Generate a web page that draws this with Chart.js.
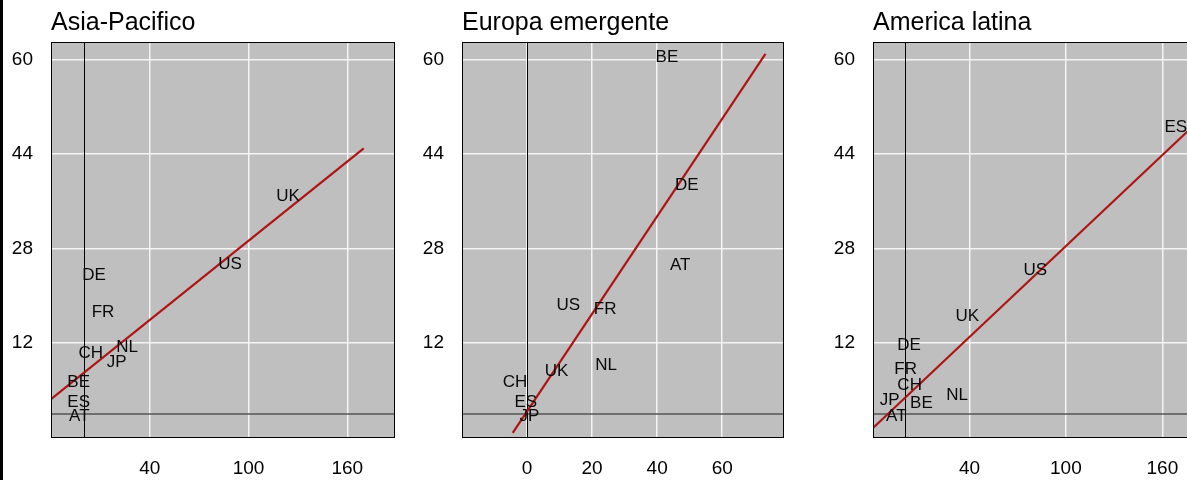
<!DOCTYPE html>
<html>
<head>
<meta charset="utf-8">
<script src="https://cdn.jsdelivr.net/npm/chart.js@4.4.1/dist/chart.umd.min.js"></script>
<style>
  html, body { margin: 0; padding: 0; background: #fff; overflow: hidden; }
  #wrap { position: relative; width: 1187px; height: 480px; overflow: hidden; }
  .panel { position: absolute; top: 0; width: 411px; height: 480px; }
  #edge { position: absolute; left: 0; top: 0; width: 3px; height: 480px; background: #000; z-index: 5; }
</style>
</head>
<body>
<div id="wrap">
  <div id="edge"></div>
  <div class="panel" style="left:0px"><canvas id="c0"></canvas></div>
  <div class="panel" style="left:411px"><canvas id="c1"></canvas></div>
  <div class="panel" style="left:822px"><canvas id="c2"></canvas></div>
</div>
<script>
// valori
const panelTitles = ['Asia-Pacifico', 'Europa emergente', 'America latina'];
const yTicks = [12, 28, 44, 60];
const yRange = [-3.9, 63];

const asiaTicks = [40, 100, 160];
const asiaRange = [-20, 189];
const asiaCodes = ['DE', 'FR', 'CH', 'NL', 'JP', 'BE', 'ES', 'AT', 'US', 'UK'];
const asiaX = [6.1, 11.6, 4.1, 26.2, 19.9, -3.2, -3.2, -2.8, 88.8, 124];
const asiaY = [23.4, 17.3, 10.3, 11.3, 8.7, 5.3, 2.0, -0.45, 25.3, 36.8];
const asiaFitX = [-20, 170];
const asiaFitY = [2.5, 45.0];

const europaTicks = [0, 20, 40, 60];
const europaRange = [-20, 79];
const europaCodes = ['BE', 'DE', 'AT', 'US', 'FR', 'NL', 'UK', 'CH', 'ES', 'JP'];
const europaX = [43.0, 49.1, 47.1, 12.7, 24.0, 24.3, 9.1, -3.7, -0.4, 0.7];
const europaY = [60.4, 38.7, 25.2, 18.4, 17.7, 8.3, 7.3, 5.3, 2.0, -0.34];
const europaFitX = [-4.4, 73.3];
const europaFitY = [-3.2, 61.0];

const latinaTicks = [40, 100, 160];
const latinaRange = [-20, 194];
const latinaCodes = ['ES', 'US', 'UK', 'DE', 'FR', 'CH', 'JP', 'BE', 'NL', 'AT'];
const latinaX = [168.4, 81.0, 38.7, 2.4, 0.3, 2.8, -9.7, 10.1, 32.3, -5.5];
const latinaY = [48.5, 24.3, 16.6, 11.7, 7.6, 4.9, 2.25, 1.8, 3.2, -0.34];
const latinaFitX = [-19.5, 182];
const latinaFitY = [-2.25, 49.5];

const FONT = "'Liberation Sans', Arial, sans-serif";

const zip = (xs, ys) => xs.map((x, i) => ({ x: x, y: ys[i] }));

// sfondo grigio del pannello
const bgPlugin = {
    id: 'bg',
    beforeDraw(chart) {
        const a = chart.chartArea, ctx = chart.ctx;
        ctx.save();
        ctx.fillStyle = '#bfbfbf';
        ctx.fillRect(a.left, a.top, a.right - a.left, a.bottom - a.top);
        ctx.restore();
    }
};

// linee dello zero
const zeroPlugin = {
    id: 'zero',
    beforeDatasetsDraw(chart) {
        const a = chart.chartArea, ctx = chart.ctx;
        const x0 = Math.round(chart.scales.x.getPixelForValue(0)) + 0.5;
        const y0 = chart.scales.y.getPixelForValue(0);
        ctx.save();
        ctx.strokeStyle = '#555';
        ctx.lineWidth = 1.5;
        ctx.beginPath();
        ctx.moveTo(a.left, y0);
        ctx.lineTo(a.right, y0);
        ctx.stroke();
        ctx.strokeStyle = '#000';
        ctx.lineWidth = 1;
        ctx.beginPath();
        ctx.moveTo(x0, a.top);
        ctx.lineTo(x0, a.bottom);
        ctx.stroke();
        ctx.restore();
    }
};

// sigle dei paesi e cornice
const labelPlugin = {
    id: 'labels',
    afterDatasetsDraw(chart) {
        const ctx = chart.ctx;
        const meta = chart.getDatasetMeta(0);
        const codes = chart.data.datasets[0].codes;
        ctx.save();
        ctx.fillStyle = '#0a0a0a';
        ctx.font = '17px ' + FONT;
        ctx.textAlign = 'center';
        ctx.textBaseline = 'middle';
        meta.data.forEach((pt, i) => {
            ctx.fillText(codes[i], pt.x, pt.y);
        });
        const a = chart.chartArea;
        ctx.strokeStyle = '#000';
        ctx.lineWidth = 1;
        ctx.strokeRect(Math.round(a.left) + 0.5, Math.round(a.top) + 0.5,
            Math.round(a.right - a.left) - 1, Math.round(a.bottom - a.top));
        ctx.restore();
    }
};

function crearPanel(id, title, codes, xs, ys, fitX, fitY, xTicks, xRange, padRight) {
    const ctx = document.getElementById(id).getContext('2d');
    return new Chart(ctx, {
        type: 'scatter',
        data: {
            datasets: [
                {
                    data: zip(xs, ys),
                    codes: codes,
                    pointRadius: 0,
                    pointHoverRadius: 0,
                    showLine: false
                },
                {
                    data: zip(fitX, fitY),
                    showLine: true,
                    borderColor: '#ad1515',
                    borderWidth: 2.2,
                    pointRadius: 0,
                    pointHoverRadius: 0,
                    fill: false
                }
            ]
        },
        options: {
            responsive: false,
            animation: false,
            events: [],
            layout: { padding: { left: 0, right: padRight, top: 0, bottom: 0 } },
            plugins: {
                legend: { display: false },
                tooltip: { enabled: false },
                title: {
                    display: true,
                    text: title,
                    align: 'start',
                    fullSize: false,
                    color: '#000',
                    font: { family: FONT, size: 25, weight: 'normal', lineHeight: 1.2 },
                    padding: { top: 8, bottom: 4 }
                }
            },
            scales: {
                x: {
                    type: 'linear',
                    min: xRange[0],
                    max: xRange[1],
                    afterBuildTicks: s => { s.ticks = xTicks.map(v => ({ value: v })); },
                    afterFit: s => { s.height = 43; },
                    border: { display: false },
                    grid: { color: '#f4f4f4', lineWidth: 1.5, drawTicks: false },
                    ticks: { color: '#000', padding: 20, maxRotation: 0, font: { family: FONT, size: 19 } }
                },
                y: {
                    type: 'linear',
                    min: yRange[0],
                    max: yRange[1],
                    afterBuildTicks: s => { s.ticks = yTicks.map(v => ({ value: v })); },
                    afterFit: s => { s.width = 51; },
                    border: { display: false },
                    grid: { color: '#f4f4f4', lineWidth: 1.5, drawTicks: false },
                    ticks: { color: '#000', padding: 18, font: { family: FONT, size: 19 } }
                }
            }
        },
        plugins: [bgPlugin, zeroPlugin, labelPlugin]
    });
}

document.querySelectorAll('canvas').forEach(c => { c.width = 411; c.height = 480; });

crearPanel('c0', panelTitles[0], asiaCodes, asiaX, asiaY, asiaFitX, asiaFitY, asiaTicks, asiaRange, 16);
crearPanel('c1', panelTitles[1], europaCodes, europaX, europaY, europaFitX, europaFitY, europaTicks, europaRange, 38);
crearPanel('c2', panelTitles[2], latinaCodes, latinaX, latinaY, latinaFitX, latinaFitY, latinaTicks, latinaRange, 16);
</script>
</body>
</html>
